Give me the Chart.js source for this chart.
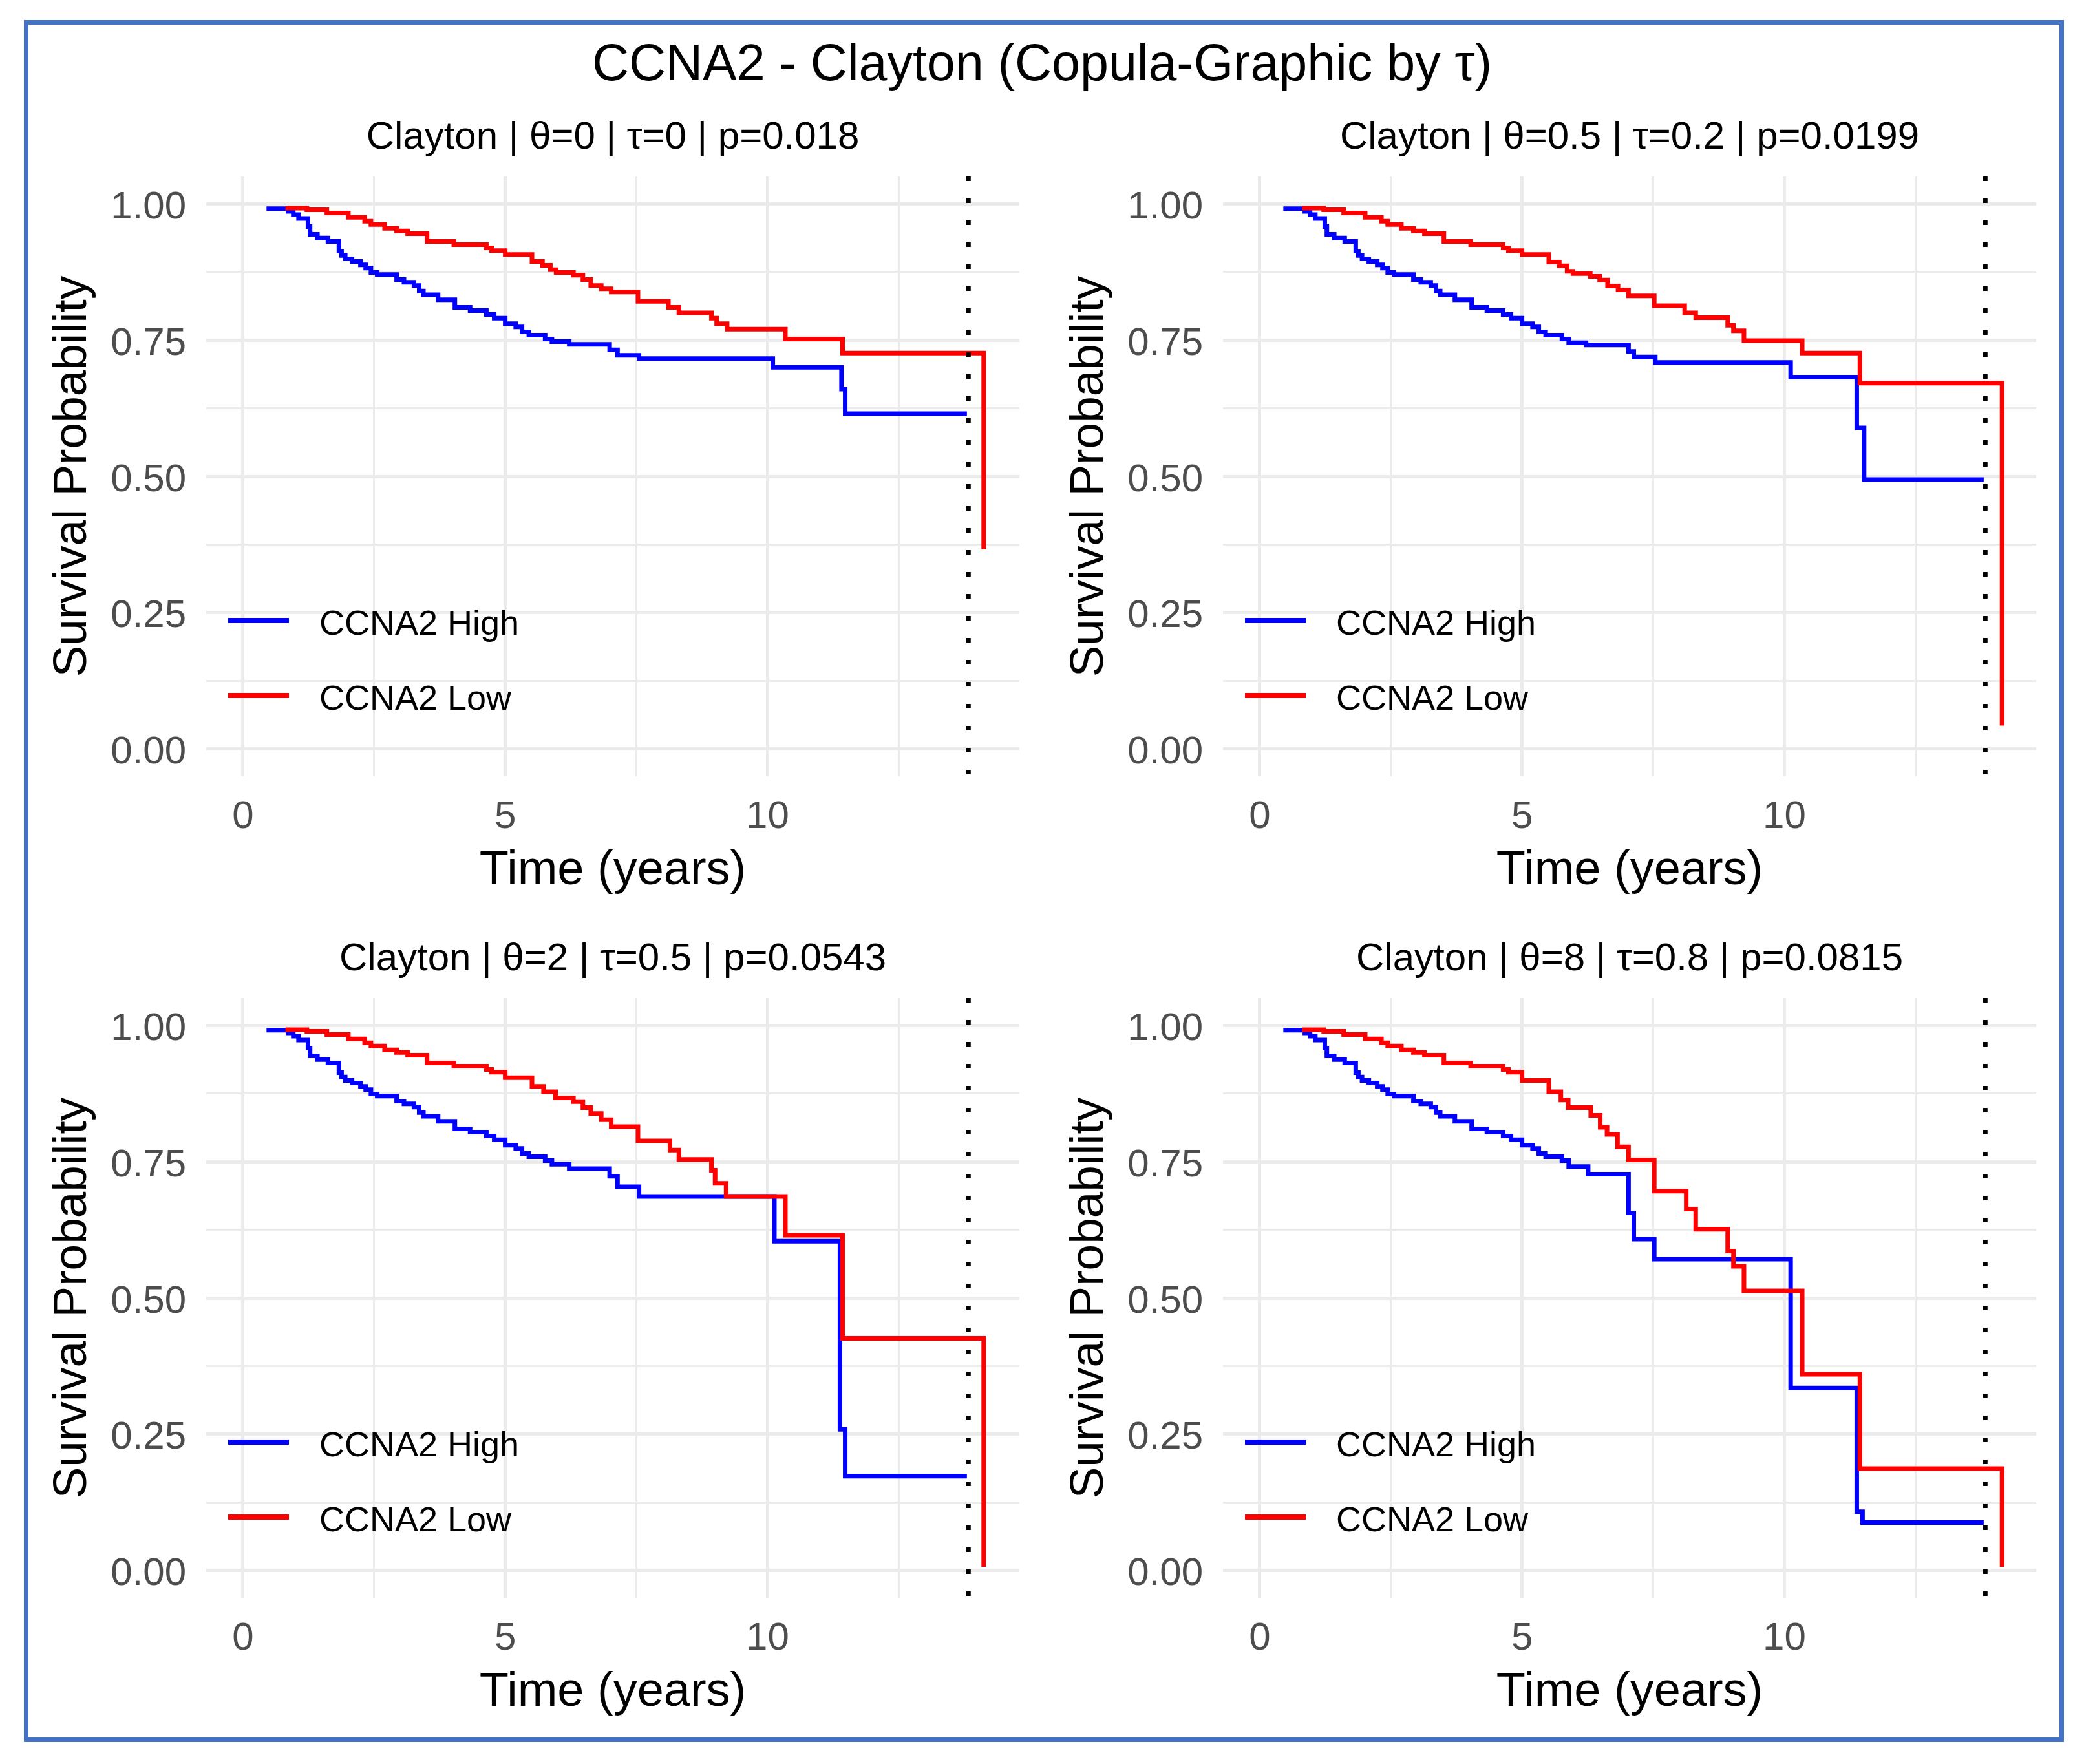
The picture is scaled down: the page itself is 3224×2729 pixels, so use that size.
<!DOCTYPE html>
<html>
<head>
<meta charset="utf-8">
<script src="https://cdn.jsdelivr.net/npm/chart.js@4.4.0/dist/chart.umd.min.js"></script>
<style>
  body { margin: 0; background: #fff; }
  #page { position: relative; width: 3224px; height: 2729px; background: #fff; font-family: "Liberation Sans", Arial, sans-serif; }
  #frame { position: absolute; left: 37px; top: 31px; width: 3142px; height: 2650px; border: 7px solid #4472C4; }
  #title { position: absolute; left: 0; top: 50px; width: 3224px; text-align: center; font-size: 79px; line-height: 94px; color: #000; }
  canvas { position: absolute; }
</style>
</head>
<body>
<div id="page">
  <div id="frame"></div>
  <div id="title">CCNA2 - Clayton (Copula-Graphic by τ)</div>
  <canvas id="p1" width="1527" height="1240" style="left:60px;top:160px"></canvas>
  <canvas id="p2" width="1527" height="1240" style="left:1633px;top:160px"></canvas>
  <canvas id="p3" width="1527" height="1240" style="left:60px;top:1431px"></canvas>
  <canvas id="p4" width="1527" height="1240" style="left:1633px;top:1431px"></canvas>
</div>
<script>
var panelTitles = [
  'Clayton | θ=0 | τ=0 | p=0.018',
  'Clayton | θ=0.5 | τ=0.2 | p=0.0199',
  'Clayton | θ=2 | τ=0.5 | p=0.0543',
  'Clayton | θ=8 | τ=0.8 | p=0.0815'
];
var groupNames = ['CCNA2 High', 'CCNA2 Low'];
var cutoffTime = 13.83;

// first part of the curves, the same in all four panels
var earlyHighT = [0.45, 0.86, 0.96, 1.06, 1.24, 1.28, 1.42, 1.62, 1.83, 1.88, 1.95, 2.08, 2.24, 2.34, 2.44, 2.56, 2.93, 3.07, 3.26, 3.36, 3.44, 3.72, 4.04, 4.33, 4.64, 4.79, 5.00, 5.20, 5.32, 5.45, 5.76];
var earlyHighS = [0.991, 0.986, 0.980, 0.973, 0.958, 0.944, 0.937, 0.931, 0.913, 0.905, 0.899, 0.894, 0.888, 0.882, 0.874, 0.870, 0.861, 0.856, 0.850, 0.840, 0.833, 0.824, 0.810, 0.804, 0.797, 0.790, 0.780, 0.774, 0.765, 0.759, 0.752];
var earlyLowT = [0.81, 1.22, 1.60, 2.01, 2.32, 2.44, 2.70, 2.93, 3.14, 3.51, 4.02, 4.64, 4.74];
var earlyLowS = [0.992, 0.989, 0.983, 0.975, 0.968, 0.962, 0.955, 0.950, 0.945, 0.931, 0.925, 0.919, 0.914];

// rest of each curve, panel by panel
var p1HighT = [5.89, 6.22, 6.99, 7.14, 7.55, 10.10, 11.41, 11.48, 13.80];
var p1HighS = [0.747, 0.742, 0.732, 0.722, 0.716, 0.700, 0.660, 0.615, 0.615];
var p1LowT = [5.00, 5.51, 5.71, 5.86, 5.97, 6.30, 6.48, 6.63, 6.83, 7.02, 7.53, 8.11, 8.31, 8.93, 9.03, 9.23, 10.34, 11.43, 14.12];
var p1LowS = [0.907, 0.894, 0.887, 0.879, 0.874, 0.869, 0.861, 0.850, 0.844, 0.838, 0.821, 0.810, 0.800, 0.790, 0.780, 0.770, 0.752, 0.726, 0.366];

var p2HighT = [5.89, 6.22, 7.03, 7.13, 7.54, 10.12, 11.38, 11.52, 13.80];
var p2HighS = [0.745, 0.741, 0.729, 0.719, 0.709, 0.682, 0.589, 0.494, 0.494];
var p2LowT = [5.00, 5.51, 5.71, 5.86, 5.97, 6.30, 6.48, 6.63, 6.83, 7.03, 7.52, 8.10, 8.31, 8.92, 9.03, 9.23, 10.34, 11.44, 14.15];
var p2LowS = [0.907, 0.893, 0.886, 0.876, 0.872, 0.867, 0.860, 0.849, 0.842, 0.831, 0.813, 0.800, 0.791, 0.777, 0.767, 0.749, 0.726, 0.671, 0.043];

var p3HighT = [5.89, 6.22, 6.99, 7.14, 7.55, 10.13, 11.38, 11.48, 13.80];
var p3HighS = [0.745, 0.737, 0.723, 0.704, 0.686, 0.604, 0.259, 0.173, 0.173];
var p3LowT = [5.00, 5.51, 5.73, 5.96, 6.30, 6.48, 6.63, 6.83, 7.02, 7.53, 8.14, 8.31, 8.93, 9.00, 9.21, 10.34, 11.43, 14.12];
var p3LowS = [0.904, 0.888, 0.878, 0.867, 0.860, 0.849, 0.838, 0.827, 0.814, 0.788, 0.771, 0.754, 0.734, 0.710, 0.686, 0.615, 0.426, 0.007];

var p4HighT = [5.89, 6.26, 7.03, 7.13, 7.52, 10.12, 11.38, 11.49, 13.80];
var p4HighS = [0.741, 0.727, 0.656, 0.608, 0.571, 0.335, 0.108, 0.088, 0.088];
var p4LowT = [5.00, 5.51, 5.74, 5.88, 6.31, 6.49, 6.62, 6.82, 7.03, 7.52, 8.13, 8.31, 8.92, 9.03, 9.23, 10.34, 11.44, 14.15];
var p4LowS = [0.899, 0.878, 0.863, 0.849, 0.835, 0.813, 0.800, 0.777, 0.753, 0.696, 0.663, 0.626, 0.586, 0.558, 0.513, 0.360, 0.187, 0.007];

var panels = [
  {id: 'p1', highT: p1HighT, highS: p1HighS, lowT: p1LowT, lowS: p1LowS},
  {id: 'p2', highT: p2HighT, highS: p2HighS, lowT: p2LowT, lowS: p2LowS},
  {id: 'p3', highT: p3HighT, highS: p3HighS, lowT: p3LowT, lowS: p3LowS},
  {id: 'p4', highT: p4HighT, highS: p4HighS, lowT: p4LowT, lowS: p4LowS}
];

var FONT = '"Liberation Sans", Arial, sans-serif';
var GRID = '#EBEBEB';

function points(t, s) {
  return t.map(function (x, i) { return {x: x, y: s[i]}; });
}

// subtitle over the panel and the legend inside it
var panelDecor = {
  id: 'panelDecor',
  afterDraw: function (chart) {
    var ctx = chart.ctx, a = chart.chartArea;
    ctx.save();
    ctx.fillStyle = '#000';
    ctx.textAlign = 'center';
    ctx.textBaseline = 'middle';
    ctx.font = '60px ' + FONT;
    ctx.fillText(chart.options.plugins.panelDecor.title, (a.left + a.right) / 2, 53);

    var colors = ['#0000FF', '#FF0000'];
    var rows = [687, 803];
    ctx.font = '54px ' + FONT;
    ctx.textAlign = 'left';
    for (var i = 0; i < 2; i++) {
      ctx.strokeStyle = colors[i];
      ctx.lineWidth = 8;
      ctx.beginPath();
      ctx.moveTo(a.left + 34, a.top + rows[i]);
      ctx.lineTo(a.left + 128, a.top + rows[i]);
      ctx.stroke();
      ctx.fillText(groupNames[i], a.left + 175, a.top + rows[i] + 7);
    }
    ctx.restore();
  }
};

panels.forEach(function (p, k) {
  var high = points(earlyHighT.concat(p.highT), earlyHighS.concat(p.highS));
  var low = points(earlyLowT.concat(p.lowT), earlyLowS.concat(p.lowS));

  new Chart(document.getElementById(p.id), {
    type: 'line',
    data: {
      datasets: [
        {
          label: 'cutoff',
          data: [{x: cutoffTime, y: 1.05}, {x: cutoffTime, y: -0.05}],
          borderColor: '#000',
          borderWidth: 7,
          borderDash: [7, 27],
          borderCapStyle: 'butt',
          pointRadius: 0
        },
        {
          label: groupNames[1],
          data: low,
          stepped: 'before',
          borderColor: '#FF0000',
          borderWidth: 7,
          pointRadius: 0,
          fill: false
        },
        {
          label: groupNames[0],
          data: high,
          stepped: 'before',
          borderColor: '#0000FF',
          borderWidth: 7,
          pointRadius: 0,
          fill: false
        }
      ]
    },
    options: {
      responsive: false,
      devicePixelRatio: 1,
      animation: false,
      layout: {padding: {top: 113, right: 10, left: 0, bottom: 0}},
      plugins: {
        legend: {display: false},
        tooltip: {enabled: false},
        panelDecor: {title: panelTitles[k]}
      },
      scales: {
        x: {
          type: 'linear',
          min: -0.7,
          max: 14.8,
          border: {display: false},
          grid: {
            color: GRID,
            drawTicks: false,
            lineWidth: function (c) { return c.tick && c.tick.value % 5 === 0 ? 5 : 3; }
          },
          ticks: {
            stepSize: 2.5,
            includeBounds: false,
            autoSkip: false,
            maxRotation: 0,
            padding: 27,
            color: '#4D4D4D',
            font: {family: FONT, size: 60},
            callback: function (v) { return v % 5 === 0 ? String(v) : ''; }
          },
          title: {
            display: true,
            text: 'Time (years)',
            color: '#000',
            font: {family: FONT, size: 74},
            padding: {top: 0, bottom: 8}
          },
          afterFit: function (s) { s.height = 199; }
        },
        y: {
          min: -0.05,
          max: 1.05,
          border: {display: false},
          grid: {
            color: GRID,
            drawTicks: false,
            lineWidth: function (c) {
              if (!c.tick) return 3;
              var q = c.tick.value * 4;
              return Math.abs(q - Math.round(q)) < 1e-6 ? 5 : 3;
            }
          },
          ticks: {
            stepSize: 0.125,
            includeBounds: false,
            autoSkip: false,
            padding: 31,
            labelOffset: 6,
            color: '#4D4D4D',
            font: {family: FONT, size: 60},
            callback: function (v) {
              var q = v * 4;
              return Math.abs(q - Math.round(q)) < 1e-6 ? v.toFixed(2) : '';
            }
          },
          title: {
            display: true,
            text: 'Survival Probability',
            color: '#000',
            font: {family: FONT, size: 73},
            padding: {top: 9, bottom: 0}
          },
          afterFit: function (s) { s.width = 259; }
        }
      }
    },
    plugins: [panelDecor]
  });
});
</script>
</body>
</html>
